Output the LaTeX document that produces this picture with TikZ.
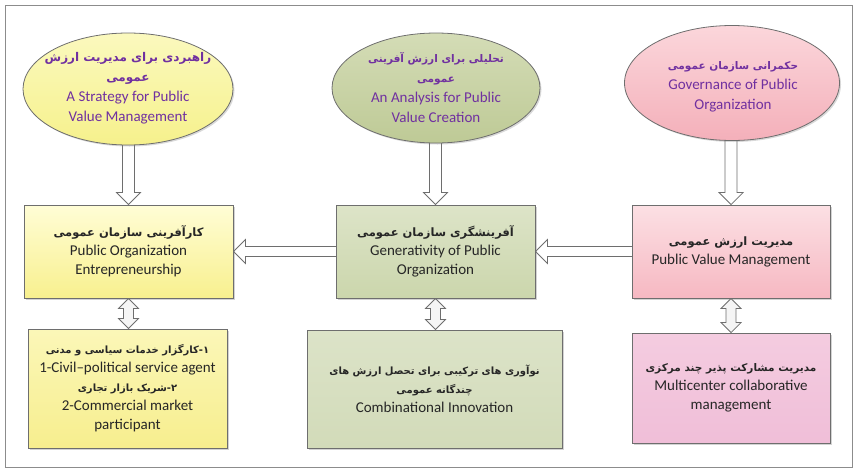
\documentclass[tikz,border=0pt]{standalone}
\usepackage{fontspec}
\setmainfont{Carlito}
\newfontfamily\fafont[Script=Arabic]{DejaVu Sans}
\TeXXeTstate=1
\usetikzlibrary{shadows,backgrounds,calc,shapes.geometric}
\definecolor{purp}{HTML}{7030A0}
\definecolor{darktxt}{HTML}{262626}
\definecolor{edge}{HTML}{6E6E6E}
% Persian font at a given size (bold)
\newcommand\fas[1]{\fontsize{#1}{20}\fafont\bfseries}
\newcommand\hdown[2]{\draw[harrow] let \p1=(#2.north), \p2=(#1.south) in
  (\x1-6pt,\y2+6pt) -- (\x1-6pt,\y1+12pt) -- (\x1-12pt,\y1+12pt) -- (\x1,\y1) --
  (\x1+12pt,\y1+12pt) -- (\x1+6pt,\y1+12pt) -- (\x1+6pt,\y2+6pt) -- cycle;}
\newcommand\hleft[2]{\draw[harrow] let \p1=(#1.west), \p2=(#2.east) in
  (\x1+3pt,\y1+5pt) -- (\x2+12pt,\y1+5pt) -- (\x2+12pt,\y1+12pt) -- (\x2,\y1) --
  (\x2+12pt,\y1-12pt) -- (\x2+12pt,\y1-5pt) -- (\x1+3pt,\y1-5pt) -- cycle;}
\newcommand\hboth[2]{\draw[harrow,fill=black!4] let \p1=(#1.south), \p2=(#2.north) in
  (\x1,\y1) -- (\x1+10pt,\y1-10pt) -- (\x1+5pt,\y1-10pt) -- (\x1+5pt,\y2+10pt) --
  (\x1+10pt,\y2+10pt) -- (\x1,\y2) -- (\x1-10pt,\y2+10pt) -- (\x1-5pt,\y2+10pt) --
  (\x1-5pt,\y1-10pt) -- (\x1-10pt,\y1-10pt) -- cycle;}
\begin{document}
\begin{tikzpicture}[x=1pt,y=-1pt,
  ellbase/.style={ellipse, draw=edge, line width=0.8pt, inner sep=0pt,
    drop shadow={shadow xshift=1.5pt,shadow yshift=-1.5pt,opacity=0.3}},
  boxbase/.style={rectangle, draw=edge, line width=0.9pt, inner sep=0pt, align=center,
    text=darktxt, font=\fontsize{15}{19}\selectfont,
    drop shadow={shadow xshift=2pt,shadow yshift=-2pt,opacity=0.35}},
  etxt/.style={align=center, text=purp, font=\fontsize{15}{20}\selectfont, inner sep=0pt},
  harrow/.style={draw=edge, fill=white, line width=0.8pt, line join=miter}]
\useasboundingbox (0,0) rectangle (853,469);
\draw[draw=black!45, line width=1pt] (5,5) rectangle (852,467);

% ellipses
\node[ellbase, minimum width=210pt, minimum height=112pt, top color={rgb,255:red,251;green,249;blue,190}, bottom color={rgb,255:red,246;green,241;blue,140}] (e1) at (128,89) {};
\node[ellbase, minimum width=208pt, minimum height=110pt, top color={rgb,255:red,212;green,220;blue,182}, bottom color={rgb,255:red,190;green,202;blue,150}] (e2) at (436,88) {};
\node[ellbase, minimum width=215pt, minimum height=115pt, top color={rgb,255:red,251;green,214;blue,219}, bottom color={rgb,255:red,244;green,176;blue,186}] (e3) at (732,83) {};
\node[etxt] (t1) at (128,88) {{\fas{12}\beginR راهبردی برای مدیریت ارزش\endR}\\ {\fas{12}\beginR عمومی\endR}\\ A Strategy for Public\\ Value Management};
\node[etxt] (t2) at (436,88) {{\fas{10.5}\beginR تحلیلی برای ارزش آفرینی\endR}\\ {\fas{10.5}\beginR عمومی\endR}\\ An Analysis for Public\\ Value Creation};
\node[etxt] (t3) at (733,87) {{\fas{10.5}\beginR حکمرانی سازمان عمومی\endR}\\ Governance of Public\\ Organization};

% middle boxes
\node[boxbase, minimum width=209pt, minimum height=93pt, top color={rgb,255:red,255;green,253;blue,214}, bottom color={rgb,255:red,248;green,240;blue,142}] (b1) at (128.5,251.5) {{\fas{11.5}\beginR کارآفرینی سازمان عمومی\endR}\\ Public Organization\\ Entrepreneurship};
\node[boxbase, minimum width=199pt, minimum height=93pt, top color={rgb,255:red,221;green,228;blue,200}, bottom color={rgb,255:red,203;green,214;blue,172}] (b2) at (435.5,251.5) {{\fas{11.5}\beginR آفرینشگری سازمان عمومی\endR}\\ Generativity of Public\\ Organization};
\node[boxbase, minimum width=198pt, minimum height=93pt, top color={rgb,255:red,252;green,224;blue,228}, bottom color={rgb,255:red,246;green,184;blue,194}] (b3) at (731,251.5) {{\fas{11.5}\beginR مدیریت ارزش عمومی\endR}\\ Public Value Management};

% bottom boxes
\node[boxbase, minimum width=199pt, minimum height=119pt, top color={rgb,255:red,251;green,247;blue,184}, bottom color={rgb,255:red,247;green,238;blue,142}] (b4) at (127.5,388.5) {{\fas{10}\beginR ۱-کارگزار خدمات سیاسی و مدنی\endR}\\ 1-Civil–political service agent\\ {\fas{10}\beginR ۲-شریک بازار تجاری\endR}\\ 2-Commercial market\\ participant};
\node[boxbase, minimum width=255pt, minimum height=118pt, top color={rgb,255:red,220;green,227;blue,200}, bottom color={rgb,255:red,210;green,219;blue,185}] (b5) at (434.5,389) {{\fas{10}\beginR نوآوری های ترکیبی برای تحصل ارزش های\endR}\\ {\fas{10}\beginR چندگانه عمومی\endR}\\ Combinational Innovation};
\node[boxbase, minimum width=198pt, minimum height=110pt, top color={rgb,255:red,244;green,204;blue,224}, bottom color={rgb,255:red,240;green,190;blue,216}] (b6) at (731,388) {{\fas{10.5}\beginR مدیریت مشارکت پذیر چند مرکزی\endR}\\ Multicenter collaborative\\ management};

\begin{scope}[on background layer]
\hdown{e1}{b1}
\hdown{e2}{b2}
\hdown{e3}{b3}
\hleft{b3}{b2}
\hleft{b2}{b1}
\hboth{b1}{b4}
\hboth{b2}{b5}
\hboth{b3}{b6}
\end{scope}
\end{tikzpicture}
\end{document}
